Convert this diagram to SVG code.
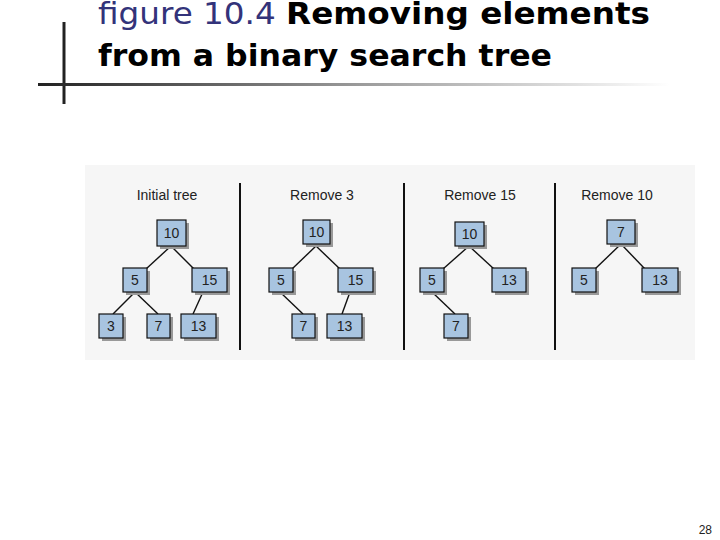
<svg xmlns="http://www.w3.org/2000/svg" width="720" height="540" viewBox="0 0 720 540">
<defs>
<linearGradient id="g" x1="0" x2="1"><stop offset="0" stop-color="#222"/><stop offset="0.5" stop-color="#999"/><stop offset="1" stop-color="#fff"/></linearGradient>
<style>
.n rect.s{fill:#999}
.n rect.b{fill:#a8c4e0;stroke:#111;stroke-width:1.2}
.n text,.h{font-family:"Liberation Sans",Arial,sans-serif;fill:#222}
.n text{font-size:14px;text-anchor:middle}
.h{font-size:14px;text-anchor:middle}
.e line{stroke:#111;stroke-width:1.4}
.sep{stroke:#111;stroke-width:2}
</style>
</defs>
<rect width="720" height="540" fill="#fff"/>
<line x1="64" y1="22" x2="64" y2="104" stroke="#222" stroke-width="3"/>
<rect x="38" y="83" width="632" height="3" fill="url(#g)"/>
<text x="98" y="24" font-family="DejaVu Sans,sans-serif" font-size="31" textLength="552" lengthAdjust="spacingAndGlyphs"><tspan fill="#33337a">figure 10.4</tspan>  <tspan font-weight="bold" fill="#000">Removing elements</tspan></text>
<text x="98" y="66" font-family="DejaVu Sans,sans-serif" font-size="31" font-weight="bold" textLength="454" lengthAdjust="spacingAndGlyphs">from a binary search tree</text>
<rect x="85" y="165" width="610" height="195" fill="#f6f6f6"/>
<text class="h" x="167" y="200">Initial tree</text>
<text class="h" x="322" y="200">Remove 3</text>
<text class="h" x="480" y="200">Remove 15</text>
<text class="h" x="617" y="200">Remove 10</text>
<line class="sep" x1="240" y1="183" x2="240" y2="350"/>
<line class="sep" x1="404" y1="183" x2="404" y2="350"/>
<line class="sep" x1="555" y1="183" x2="555" y2="350"/>
<g class="e" id="connectors">
<line x1="171" y1="246" x2="146" y2="269"/><line x1="171" y1="246" x2="194" y2="269"/>
<line x1="135" y1="292" x2="113" y2="314"/><line x1="135" y1="292" x2="158" y2="314"/><line x1="203" y1="292" x2="193" y2="314"/>
<line x1="316" y1="246" x2="292" y2="269"/><line x1="316" y1="246" x2="340" y2="269"/>
<line x1="280" y1="292" x2="303" y2="314"/><line x1="350" y1="292" x2="342" y2="314"/>
<line x1="469" y1="246" x2="443" y2="269"/><line x1="469" y1="246" x2="494" y2="269"/>
<line x1="432" y1="292" x2="455" y2="314"/>
<line x1="621" y1="244" x2="595" y2="269"/><line x1="621" y1="244" x2="645" y2="269"/>
</g>
<g class="n" id="t1-10"><rect class="s" x="160" y="223" width="29" height="26"/><rect class="b" x="157" y="220" width="29" height="26"/><text x="171.5" y="238">10</text></g>
<g class="n" id="t1-5"><rect class="s" x="126" y="271" width="24" height="24"/><rect class="b" x="123" y="268" width="24" height="24"/><text x="135" y="285">5</text></g>
<g class="n" id="t1-15"><rect class="s" x="195" y="271" width="35" height="24"/><rect class="b" x="192" y="268" width="35" height="24"/><text x="209.5" y="285">15</text></g>
<g class="n" id="t1-3"><rect class="s" x="102" y="317" width="24" height="24"/><rect class="b" x="99" y="314" width="24" height="24"/><text x="111" y="331">3</text></g>
<g class="n" id="t1-7"><rect class="s" x="150" y="317" width="23" height="24"/><rect class="b" x="147" y="314" width="23" height="24"/><text x="158.5" y="331">7</text></g>
<g class="n" id="t1-13"><rect class="s" x="184" y="317" width="35" height="24"/><rect class="b" x="181" y="314" width="35" height="24"/><text x="198.5" y="331">13</text></g>
<g class="n" id="t2-10"><rect class="s" x="306" y="223" width="27" height="24"/><rect class="b" x="303" y="220" width="27" height="24"/><text x="316.5" y="237">10</text></g>
<g class="n" id="t2-5"><rect class="s" x="272" y="271" width="24" height="24"/><rect class="b" x="269" y="268" width="24" height="24"/><text x="281" y="285">5</text></g>
<g class="n" id="t2-15"><rect class="s" x="341" y="271" width="35" height="24"/><rect class="b" x="338" y="268" width="35" height="24"/><text x="355.5" y="285">15</text></g>
<g class="n" id="t2-7"><rect class="s" x="295" y="317" width="23" height="24"/><rect class="b" x="292" y="314" width="23" height="24"/><text x="303.5" y="331">7</text></g>
<g class="n" id="t2-13"><rect class="s" x="330" y="317" width="35" height="24"/><rect class="b" x="327" y="314" width="35" height="24"/><text x="344.5" y="331">13</text></g>
<g class="n" id="t3-10"><rect class="s" x="458" y="225" width="29" height="24"/><rect class="b" x="455" y="222" width="29" height="24"/><text x="469.5" y="239">10</text></g>
<g class="n" id="t3-5"><rect class="s" x="423" y="271" width="24" height="24"/><rect class="b" x="420" y="268" width="24" height="24"/><text x="432" y="285">5</text></g>
<g class="n" id="t3-13"><rect class="s" x="495" y="271" width="34" height="24"/><rect class="b" x="492" y="268" width="34" height="24"/><text x="509" y="285">13</text></g>
<g class="n" id="t3-7"><rect class="s" x="447" y="317" width="24" height="24"/><rect class="b" x="444" y="314" width="24" height="24"/><text x="456" y="331">7</text></g>
<g class="n" id="t4-7"><rect class="s" x="610" y="223" width="28" height="24"/><rect class="b" x="607" y="220" width="28" height="24"/><text x="621" y="237">7</text></g>
<g class="n" id="t4-5"><rect class="s" x="575" y="271" width="24" height="24"/><rect class="b" x="572" y="268" width="24" height="24"/><text x="584" y="285">5</text></g>
<g class="n" id="t4-13"><rect class="s" x="645" y="271" width="36" height="24"/><rect class="b" x="642" y="268" width="36" height="24"/><text x="660" y="285">13</text></g>
<text x="712" y="534" font-family="Liberation Sans,Arial,sans-serif" font-size="12" text-anchor="end" fill="#222">28</text>
</svg>
